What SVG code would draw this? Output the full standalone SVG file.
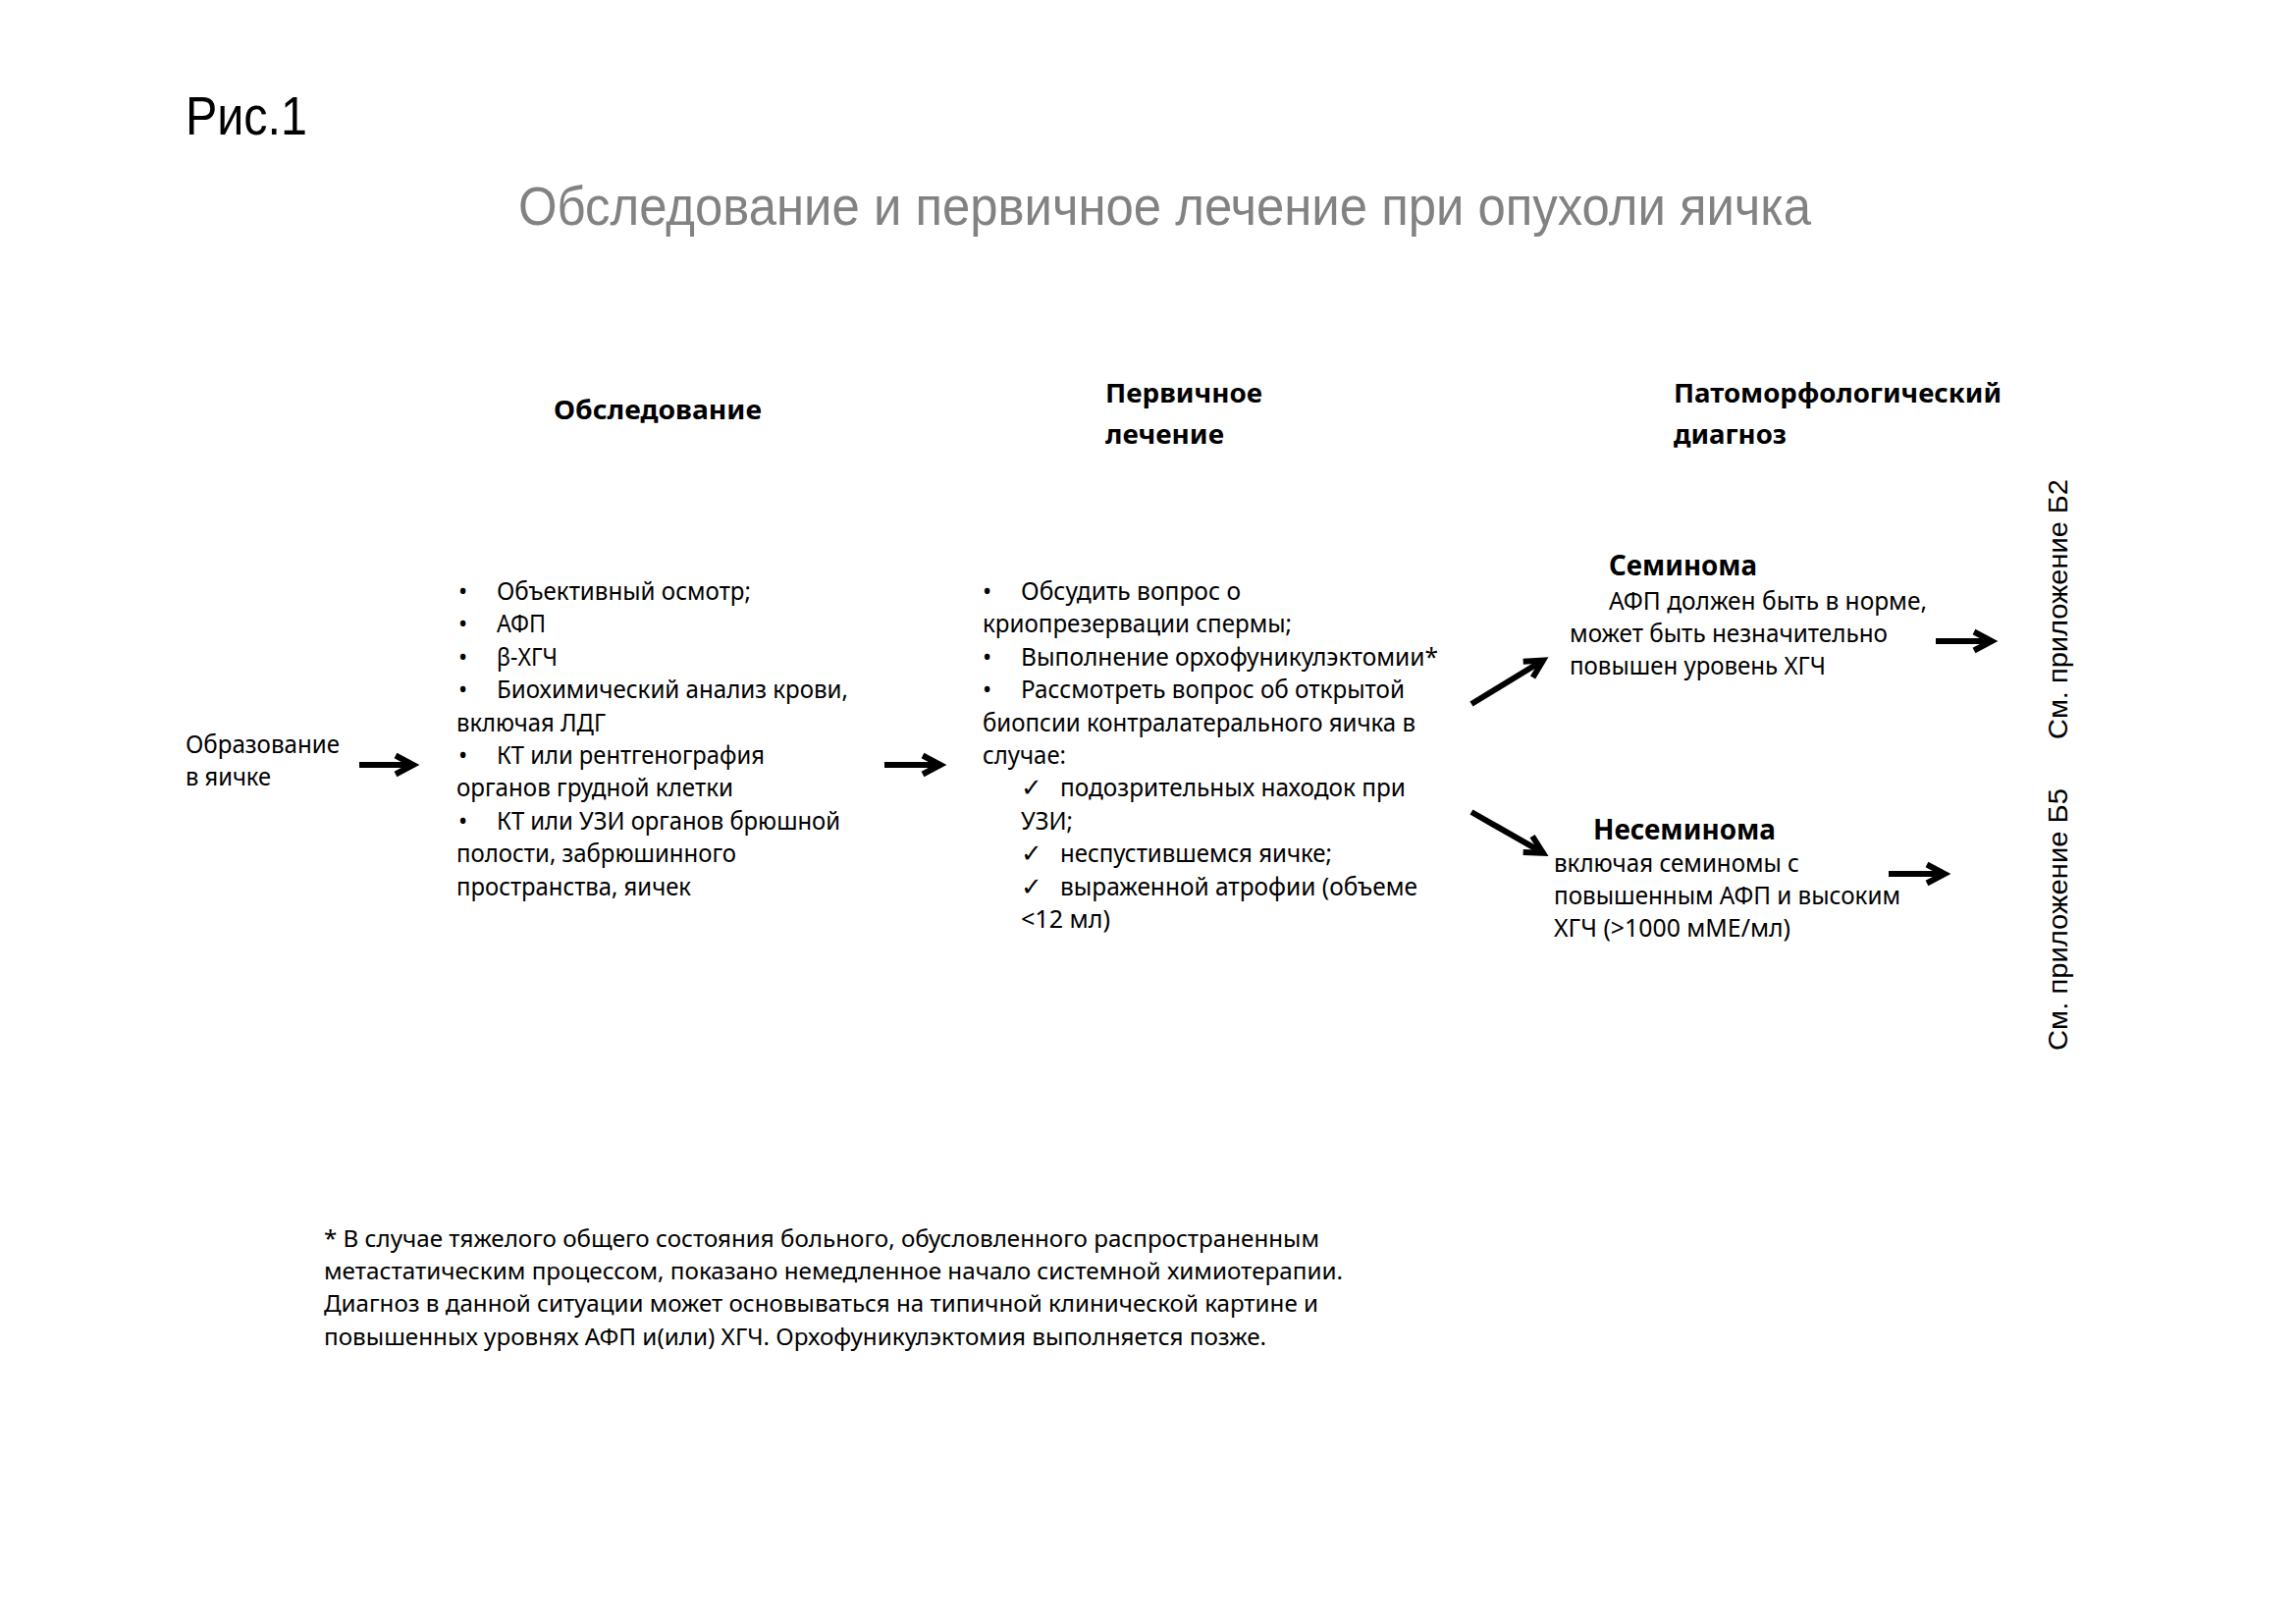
<svg xmlns="http://www.w3.org/2000/svg" width="2339" height="1654" viewBox="0 0 2339 1654">
<style>
text{font-family:"Noto Sans","Open Sans","DejaVu Sans",sans-serif;fill:#000}
.b{font-size:24.5px}
.h{font-size:26px;font-weight:bold}
.hs{font-size:28px;font-weight:bold}
.ar{font-family:"Liberation Sans",Arial,sans-serif}
.ck{font-family:"DejaVu Sans",sans-serif;font-size:26px;font-weight:bold}
.fn{font-size:24px}
.arr{fill:none;stroke:#000;stroke-width:6}
</style>
<defs>
<marker id="head" markerUnits="userSpaceOnUse" markerWidth="1" markerHeight="1" refX="0" refY="0" orient="auto" overflow="visible">
<path d="M-18,-9.5 L0,0 L-18,9.5" fill="none" stroke="#000" stroke-width="6" stroke-linejoin="miter"/>
</marker>
</defs>
<rect width="2339" height="1654" fill="#fff"/>

<g id="fig-label"><text class="ar" x="189" y="137" font-size="56" textLength="124" lengthAdjust="spacingAndGlyphs">Рис.1</text></g>
<g id="title"><text class="ar" x="528" y="229" font-size="56" style="fill:#828282" textLength="1317" lengthAdjust="spacingAndGlyphs">Обследование и первичное лечение при опухоли яичка</text></g>

<g id="header-exam"><text class="h" x="564" y="427" textLength="212" lengthAdjust="spacingAndGlyphs">Обследование</text></g>
<g id="header-treatment">
<text class="h" x="1126" y="410" textLength="160" lengthAdjust="spacingAndGlyphs">Первичное</text>
<text class="h" x="1126" y="452" textLength="121" lengthAdjust="spacingAndGlyphs">лечение</text>
</g>
<g id="header-diagnosis">
<text class="h" x="1705" y="410" textLength="334" lengthAdjust="spacingAndGlyphs">Патоморфологический</text>
<text class="h" x="1705" y="452" textLength="115" lengthAdjust="spacingAndGlyphs">диагноз</text>
</g>

<g id="node-start">
<text class="b" x="189" y="767" textLength="157" lengthAdjust="spacingAndGlyphs">Образование</text>
<text class="b" x="189" y="800" textLength="87" lengthAdjust="spacingAndGlyphs">в яичке</text>
</g>

<g id="node-exam">
<text class="b" x="467" y="611">•</text><text class="b" x="506" y="611" textLength="259" lengthAdjust="spacingAndGlyphs">Объективный осмотр;</text>
<text class="b" x="467" y="644">•</text><text class="b" x="506" y="644" textLength="50" lengthAdjust="spacingAndGlyphs">АФП</text>
<text class="b" x="467" y="678">•</text><text class="b" x="506" y="678" textLength="62" lengthAdjust="spacingAndGlyphs">β-ХГЧ</text>
<text class="b" x="467" y="711">•</text><text class="b" x="506" y="711" textLength="358" lengthAdjust="spacingAndGlyphs">Биохимический анализ крови,</text>
<text class="b" x="465" y="745" textLength="152" lengthAdjust="spacingAndGlyphs">включая ЛДГ</text>
<text class="b" x="467" y="778">•</text><text class="b" x="506" y="778" textLength="273" lengthAdjust="spacingAndGlyphs">КТ или рентгенография</text>
<text class="b" x="465" y="811" textLength="282" lengthAdjust="spacingAndGlyphs">органов грудной клетки</text>
<text class="b" x="467" y="845">•</text><text class="b" x="506" y="845" textLength="350" lengthAdjust="spacingAndGlyphs">КТ или УЗИ органов брюшной</text>
<text class="b" x="465" y="878" textLength="285" lengthAdjust="spacingAndGlyphs">полости, забрюшинного</text>
<text class="b" x="465" y="912" textLength="239" lengthAdjust="spacingAndGlyphs">пространства, яичек</text>
</g>

<g id="node-treatment">
<text class="b" x="1001" y="611">•</text><text class="b" x="1040" y="611" textLength="224" lengthAdjust="spacingAndGlyphs">Обсудить вопрос о</text>
<text class="b" x="1001" y="644" textLength="315" lengthAdjust="spacingAndGlyphs">криопрезервации спермы;</text>
<text class="b" x="1001" y="678">•</text><text class="b" x="1040" y="678" textLength="425" lengthAdjust="spacingAndGlyphs">Выполнение орхофуникулэктомии*</text>
<text class="b" x="1001" y="711">•</text><text class="b" x="1040" y="711" textLength="391" lengthAdjust="spacingAndGlyphs">Рассмотреть вопрос об открытой</text>
<text class="b" x="1001" y="745" textLength="441" lengthAdjust="spacingAndGlyphs">биопсии контралатерального яичка в</text>
<text class="b" x="1001" y="778" textLength="85" lengthAdjust="spacingAndGlyphs">случае:</text>
<text class="ck" x="1040" y="811">✓</text><text class="b" x="1080" y="811" textLength="352" lengthAdjust="spacingAndGlyphs">подозрительных находок при</text>
<text class="b" x="1040" y="845" textLength="53" lengthAdjust="spacingAndGlyphs">УЗИ;</text>
<text class="ck" x="1040" y="878">✓</text><text class="b" x="1080" y="878" textLength="277" lengthAdjust="spacingAndGlyphs">неспустившемся яичке;</text>
<text class="ck" x="1040" y="912">✓</text><text class="b" x="1080" y="912" textLength="364" lengthAdjust="spacingAndGlyphs">выраженной атрофии (объеме</text>
<text class="b" x="1040" y="945" textLength="91" lengthAdjust="spacingAndGlyphs">&lt;12 мл)</text>
</g>

<g id="node-seminoma">
<text class="hs" x="1639" y="586" textLength="151" lengthAdjust="spacingAndGlyphs">Семинома</text>
<text class="b" x="1639" y="621" textLength="324" lengthAdjust="spacingAndGlyphs">АФП должен быть в норме,</text>
<text class="b" x="1599" y="654" textLength="324" lengthAdjust="spacingAndGlyphs">может быть незначительно</text>
<text class="b" x="1599" y="687" textLength="261" lengthAdjust="spacingAndGlyphs">повышен уровень ХГЧ</text>
</g>

<g id="node-nonseminoma">
<text class="hs" x="1623" y="855" textLength="186" lengthAdjust="spacingAndGlyphs">Несеминома</text>
<text class="b" x="1583" y="888" textLength="250" lengthAdjust="spacingAndGlyphs">включая семиномы с</text>
<text class="b" x="1583" y="921" textLength="353" lengthAdjust="spacingAndGlyphs">повышенным АФП и высоким</text>
<text class="b" x="1583" y="954" textLength="241" lengthAdjust="spacingAndGlyphs">ХГЧ (&gt;1000 мМЕ/мл)</text>
</g>

<g id="node-appendix-b2"><text class="ar" font-size="28" transform="translate(2106 753) rotate(-90)" textLength="265" lengthAdjust="spacingAndGlyphs">См. приложение Б2</text></g>
<g id="node-appendix-b5"><text class="ar" font-size="28" transform="translate(2106 1070) rotate(-90)" textLength="267" lengthAdjust="spacingAndGlyphs">См. приложение Б5</text></g>

<g id="footnote">
<text class="fn" x="330" y="1270" textLength="1014" lengthAdjust="spacingAndGlyphs">* В случае тяжелого общего состояния больного, обусловленного распространенным</text>
<text class="fn" x="330" y="1303" textLength="1038" lengthAdjust="spacingAndGlyphs">метастатическим процессом, показано немедленное начало системной химиотерапии.</text>
<text class="fn" x="330" y="1336" textLength="1013" lengthAdjust="spacingAndGlyphs">Диагноз в данной ситуации может основываться на типичной клинической картине и</text>
<text class="fn" x="330" y="1370" textLength="960" lengthAdjust="spacingAndGlyphs">повышенных уровнях АФП и(или) ХГЧ. Орхофуникулэктомия выполняется позже.</text>
</g>

<g id="connectors">
<path class="arr" d="M366,779 L421,779" marker-end="url(#head)"/>
<path class="arr" d="M901,779 L958,779" marker-end="url(#head)"/>
<path class="arr" d="M1499,717 L1572,672.5" marker-end="url(#head)"/>
<path class="arr" d="M1499,827 L1572,868.7" marker-end="url(#head)"/>
<path class="arr" d="M1972,653 L2029,653" marker-end="url(#head)"/>
<path class="arr" d="M1924,890 L1981,890" marker-end="url(#head)"/>
</g>
</svg>
